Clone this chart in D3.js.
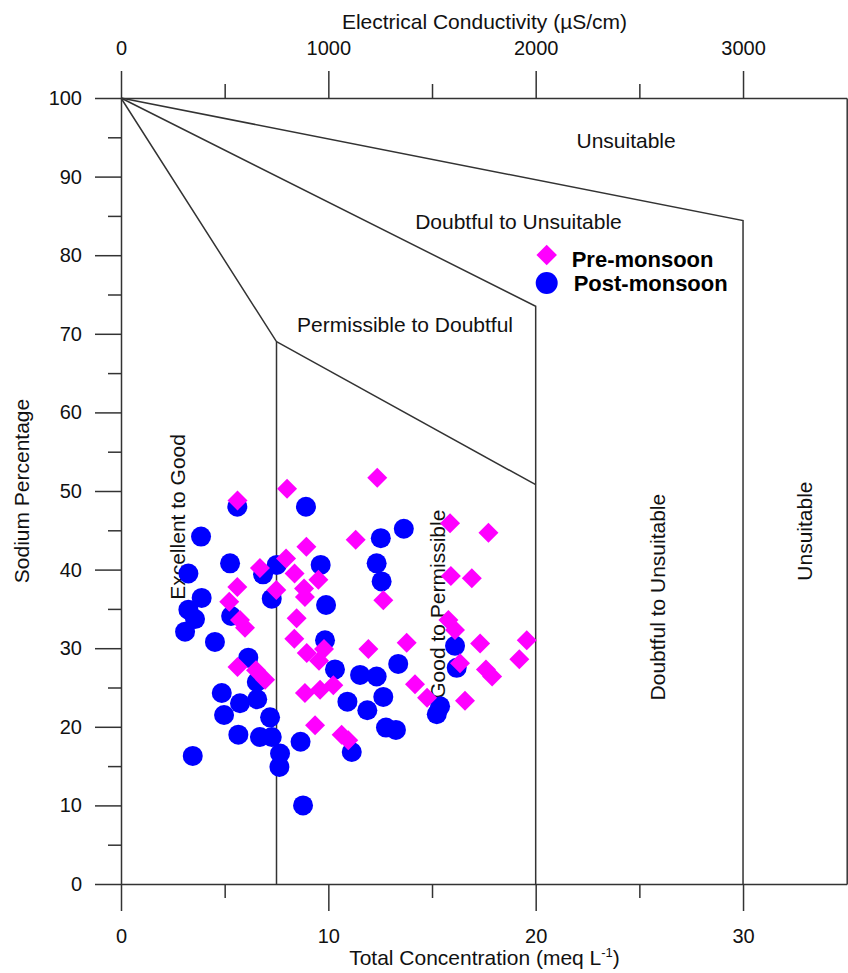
<!DOCTYPE html>
<html>
<head>
<meta charset="utf-8">
<script src="https://cdn.jsdelivr.net/npm/d3@7"></script>
<style>
	body { margin: 0; background: #fff; }
	svg { display: block; font-family: "Liberation Sans", Arial, sans-serif; }
	.axis text { font-size: 20px; font-family: "Liberation Sans", Arial, sans-serif; fill: #111; }
	.axis path, .axis line { stroke: #333; stroke-width: 1.5px; }
	.boundary { fill: none; stroke: #333; stroke-width: 1.5px; }
	.zone-label, .axis-title { font-size: 21px; fill: #111; }
	.legend-label { font-size: 22px; font-weight: bold; fill: #000; }
</style>
</head>
<body>
<svg id="wilcox" width="848" height="973"></svg>
<script>
// Total concentration (meq/L) and sodium % per sample
const pre_tc = [5.62, 8.01, 12.36, 11.32, 8.94, 7.96, 15.87, 8.37, 9.52, 6.70, 7.49, 8.83, 8.87, 12.65, 15.91, 8.47, 8.36, 8.96, 9.79, 9.55, 11.93, 13.78, 15.79, 16.11, 5.61, 5.22, 5.74, 5.98, 5.62, 6.51, 6.95, 8.87, 9.60, 10.24, 9.36, 10.64, 10.96, 14.18, 14.76, 17.72, 16.92, 17.32, 19.57, 19.21, 16.35, 17.6, 17.9, 16.59];
const pre_na = [48.8, 50.3, 51.7, 43.8, 42.9, 41.4, 45.9, 39.5, 38.7, 40.2, 37.4, 37.6, 36.5, 36.1, 39.2, 33.8, 31.2, 29.4, 29.9, 28.4, 29.9, 30.7, 33.6, 32.3, 37.8, 35.9, 33.6, 32.6, 27.6, 27.2, 26.0, 24.3, 24.7, 25.3, 20.2, 19.0, 18.3, 25.4, 23.7, 44.7, 38.9, 30.6, 31.0, 28.6, 28.1, 27.3, 26.4, 23.3];

const post_tc = [5.61, 8.92, 3.86, 5.26, 3.25, 6.85, 7.51, 9.63, 3.89, 7.27, 9.89, 3.25, 3.57, 3.09, 5.31, 4.53, 9.84, 6.14, 6.55, 4.86, 5.74, 6.57, 4.97, 7.19, 5.66, 6.70, 7.27, 7.67, 7.64, 3.46, 8.66, 8.78, 10.32, 11.53, 12.33, 13.37, 12.65, 10.92, 11.88, 12.78, 13.26, 11.13, 15.39, 15.23, 16.11, 16.19, 13.64, 12.53, 12.33, 12.57];
const post_na = [48.0, 48.0, 44.2, 40.8, 39.5, 39.4, 40.6, 40.6, 36.4, 36.3, 35.5, 34.9, 33.7, 32.1, 34.1, 30.8, 31.0, 28.8, 25.7, 24.3, 23.0, 23.5, 21.5, 21.2, 19.0, 18.7, 18.7, 16.6, 14.9, 16.3, 18.1, 10.0, 27.3, 26.6, 26.4, 28.0, 23.8, 23.2, 22.1, 19.9, 19.6, 16.8, 22.6, 21.6, 30.3, 27.5, 45.2, 44.0, 40.8, 38.5];

// Wilcox class boundaries [tc, na%]
const bound_excellent = [[0, 100], [7.5, 69.0], [7.5, 0]];
const bound_permissible = [[7.5, 69.0], [20, 50.8]];
const bound_doubtful = [[0, 100], [20, 73.5], [20, 0]];
const bound_unsuitable = [[0, 100], [30, 84.4], [30, 0]];

const tc_ticks = [0, 10, 20, 30];
const tc_minor = [5, 15, 25];
const ec_ticks = [0, 1000, 2000, 3000];
const ec_minor = [500, 1500, 2500];
const na_ticks = [0, 10, 20, 30, 40, 50, 60, 70, 80, 90, 100];
const na_minor = [5, 15, 25, 35, 45, 55, 65, 75, 85, 95];

const series_names = ["Pre-monsoon", "Post-monsoon"];
const zone_names = ["Unsuitable", "Doubtful to Unsuitable", "Permissible to Doubtful", "Excellent to Good", "Good to Permissible", "Doubtful to Unsuitable", "Unsuitable"];

const svg = d3.select("#wilcox");

const x = d3.scaleLinear().domain([0, 35]).range([121, 846.7]);
const ec = d3.scaleLinear().domain([0, 3500]).range([121, 846.7]);
const y = d3.scaleLinear().domain([0, 100]).range([884, 98]);

function dropDomain(g) { g.select(".domain").remove(); }

// axes
svg.append("g").attr("class", "axis").attr("transform", "translate(121,0)")
	.call(d3.axisLeft(y).tickValues(na_ticks).tickSize(26).tickPadding(13).tickSizeOuter(0));
svg.append("g").attr("class", "axis").attr("transform", "translate(121,0)")
	.call(d3.axisLeft(y).tickValues(na_minor).tickSize(13).tickFormat("")).call(dropDomain);

svg.append("g").attr("class", "axis").attr("transform", "translate(0,98)")
	.call(d3.axisTop(ec).tickValues(ec_ticks).tickFormat(d3.format("d")).tickSize(27).tickPadding(16).tickSizeOuter(0));
svg.append("g").attr("class", "axis").attr("transform", "translate(0,98)")
	.call(d3.axisTop(ec).tickValues(ec_minor).tickSize(14).tickFormat("")).call(dropDomain);

svg.append("g").attr("class", "axis").attr("transform", "translate(0,884)")
	.call(d3.axisBottom(x).tickValues(tc_ticks).tickSize(27).tickPadding(18).tickSizeOuter(0));
svg.append("g").attr("class", "axis").attr("transform", "translate(0,884)")
	.call(d3.axisBottom(x).tickValues(tc_minor).tickSize(14).tickFormat("")).call(dropDomain);

svg.append("g").attr("class", "axis").attr("transform", "translate(" + x(35) + ",0)")
	.call(d3.axisRight(y).tickValues([]).tickSizeOuter(0));

// boundaries
const line = d3.line().x(d => x(d[0])).y(d => y(d[1]));
svg.append("g").selectAll("path")
	.data([bound_excellent, bound_permissible, bound_doubtful, bound_unsuitable])
	.enter().append("path")
	.attr("class", "boundary")
	.attr("d", line);

// zone labels
const flat_pos = [[24.36, 93.6], [19.17, 83.3], [13.7, 70.2]];
const rot_pos = [[3.09, 46.7], [15.63, 35.6], [26.24, 36.5], [33.33, 44.9]];
svg.append("g").selectAll("text")
	.data(flat_pos)
	.enter().append("text")
	.attr("class", "zone-label")
	.attr("text-anchor", "middle")
	.attr("x", d => x(d[0]))
	.attr("y", d => y(d[1]))
	.text((d, i) => zone_names[i]);
svg.append("g").selectAll("text")
	.data(rot_pos)
	.enter().append("text")
	.attr("class", "zone-label")
	.attr("text-anchor", "middle")
	.attr("transform", d => "translate(" + x(d[0]) + "," + y(d[1]) + ") rotate(-90)")
	.text((d, i) => zone_names[i + 3]);

// points: post-monsoon first, pre-monsoon drawn on top
svg.append("g").selectAll("circle")
	.data(d3.zip(post_tc, post_na))
	.enter().append("circle")
	.attr("cx", d => x(d[0]))
	.attr("cy", d => y(d[1]))
	.attr("r", 10)
	.attr("fill", "#0000ff");

const diamond = d3.symbol().type(d3.symbolSquare).size(200);
svg.append("g").selectAll("path")
	.data(d3.zip(pre_tc, pre_na))
	.enter().append("path")
	.attr("d", diamond)
	.attr("transform", d => "translate(" + x(d[0]) + "," + y(d[1]) + ") rotate(45)")
	.attr("fill", "#ff00ff");

// legend
const legend = svg.append("g").attr("transform", "translate(546.7,255)");
legend.append("path")
	.attr("d", d3.symbol().type(d3.symbolSquare).size(210))
	.attr("transform", "rotate(45)")
	.attr("fill", "#ff00ff");
legend.append("circle").attr("cy", 28).attr("r", 11).attr("fill", "#0000ff");
legend.selectAll("text")
	.data(series_names)
	.enter().append("text")
	.attr("class", "legend-label")
	.attr("x", (d, i) => 25 + i * 2)
	.attr("y", (d, i) => 12 + i * 24)
	.text(d => d);

// axis titles
svg.append("text").attr("class", "axis-title")
	.attr("text-anchor", "middle").attr("x", 484.5).attr("y", 29)
	.text("Electrical Conductivity (µS/cm)");

const bottom_title = svg.append("text").attr("class", "axis-title")
	.attr("text-anchor", "middle").attr("x", 484.5).attr("y", 965);
bottom_title.append("tspan").text("Total Concentration (meq L");
bottom_title.append("tspan").attr("font-size", 13).attr("dy", -8).text("-1");
bottom_title.append("tspan").attr("dy", 8).text(")");

svg.append("text").attr("class", "axis-title")
	.attr("text-anchor", "middle")
	.attr("transform", "translate(29,491) rotate(-90)")
	.text("Sodium Percentage");
</script>
</body>
</html>
